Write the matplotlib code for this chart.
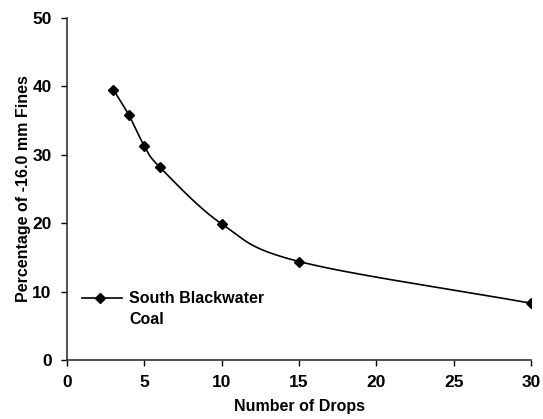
import numpy as np
import matplotlib
matplotlib.use("Agg")
import matplotlib.pyplot as plt

plt.rcParams["font.family"] = ["Liberation Sans", "DejaVu Sans"]
plt.rcParams["font.weight"] = "bold"

drops = [3, 4, 5, 6, 10, 15, 30]
fines = [39.5, 35.8, 31.3, 28.2, 19.9, 14.4, 8.3]
series_name = ["South Blackwater", "Coal"]
x_ticks = [0, 5, 10, 15, 20, 25, 30]
y_ticks = [0, 10, 20, 30, 40, 50]


def smooth_line(x, y, n=30):
    # catmull-rom curve through the points, like Excel's smoothed line
    x = np.asarray(x, float)
    y = np.asarray(y, float)
    px = np.concatenate([[2 * x[0] - x[1]], x, [2 * x[-1] - x[-2]]])
    py = np.concatenate([[2 * y[0] - y[1]], y, [2 * y[-1] - y[-2]]])
    xs, ys = [], []
    t = np.linspace(0, 1, n)
    for i in range(1, len(px) - 2):
        for p, out in ((px, xs), (py, ys)):
            p0, p1, p2, p3 = p[i - 1], p[i], p[i + 1], p[i + 2]
            m1 = (p2 - p0) / 2
            m2 = (p3 - p1) / 2
            h00 = 2 * t**3 - 3 * t**2 + 1
            h10 = t**3 - 2 * t**2 + t
            h01 = -2 * t**3 + 3 * t**2
            h11 = t**3 - t**2
            out.extend(h00 * p1 + h10 * m1 + h01 * p2 + h11 * m2)
    return xs, ys


fig = plt.figure(figsize=(5.43, 4.19), dpi=100)
ax = fig.add_axes([0.1234, 0.1408, 0.8546, 0.8162])

sx, sy = smooth_line(drops, fines)
ax.plot(sx, sy, color="black", linewidth=1.2)
ax.plot(drops, fines, linestyle="none", marker="D", markersize=5.5, color="black")

ax.set_xlim(0, 30)
ax.set_ylim(0, 50)
ax.set_xticks(x_ticks)
ax.set_yticks(y_ticks)
ax.tick_params(direction="out", length=4, width=1, labelsize=12.5, pad=7)
for s in ["top", "right"]:
    ax.spines[s].set_visible(False)
for s in ["left", "bottom"]:
    ax.spines[s].set_linewidth(1.2)
    ax.spines[s].set_color("#333333")

ax.set_xlabel("Number of Drops", fontsize=11.5, fontweight="bold", labelpad=6)
ax.set_ylabel("Percentage of -16.0 mm Fines", fontsize=11.5, fontweight="bold", labelpad=1)

# legend drawn by hand so the key sits on the first text line
ax.plot([0.032, 0.1185], [0.181, 0.181], color="black", linewidth=1.2,
        transform=ax.transAxes, clip_on=False)
ax.plot([0.071], [0.181], marker="D", markersize=5.5, color="black",
        transform=ax.transAxes, clip_on=False)
ax.text(0.134, 0.181, series_name[0], transform=ax.transAxes, va="center",
        ha="left", fontsize=11.5, fontweight="bold")
ax.text(0.134, 0.119, series_name[1], transform=ax.transAxes, va="center",
        ha="left", fontsize=11.5, fontweight="bold")

fig.savefig("out.png", dpi=100)
